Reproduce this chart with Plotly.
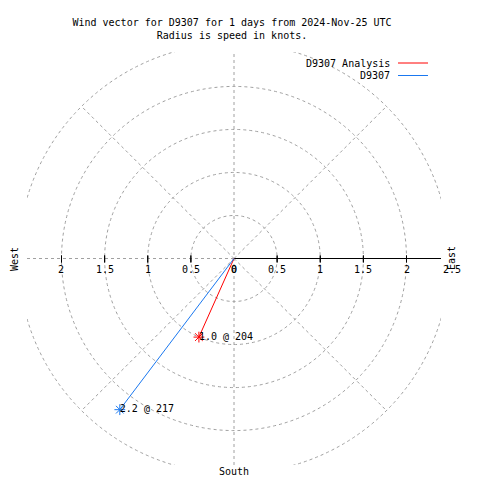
import math
import plotly.graph_objects as go

# ---- data ----
series_names = ["D9307 Analysis", "D9307"]
series_speed = [1.0, 2.2]          # knots
series_dir = [204, 217]            # degrees (clockwise from north)
series_colors = ["#ff0000", "#1a78f0"]
grid_radii = [0.5, 1.0, 1.5, 2.0, 2.5]
left_ticks = [2, 1.5, 1, 0.5, 0]
right_ticks = [0, 0.5, 1, 1.5, 2, 2.5]

FONT = "DejaVu Sans Mono"
GRID = "#a0a0a0"
OFF = 8                      # page body margin
FW = FH = 472
L, T = 27 - OFF, 52 - OFF
W, H = 414, 413
R, B = FW - L - W, FH - T - H
XR = [-2.4, 2.4]
YR = [-2.4, 2.4]


def px2paper(px, py):
    """page pixel -> paper coords"""
    return (px - OFF - L) / W, 1 - (py - OFF - T) / H


def x2paper(v):
    return (v - XR[0]) / (XR[1] - XR[0])


fig = go.Figure()

# vectors
for name, s, d, c in zip(series_names, series_speed, series_dir, series_colors):
    x = s * math.sin(math.radians(d))
    y = s * math.cos(math.radians(d))
    fig.add_trace(go.Scatter(x=[0, x], y=[0, y], mode="lines",
                             line=dict(color=c, width=1), showlegend=False,
                             hoverinfo="skip"))
    fig.add_trace(go.Scatter(x=[x], y=[y], mode="markers",
                             marker=dict(symbol="asterisk-open", size=9, color=c,
                                         line=dict(color=c, width=1)),
                             cliponaxis=False, showlegend=False))
    fig.add_trace(go.Scatter(x=[x], y=[y], mode="text",
                             text=[f"{s:.1f} @ {d}"], textposition="middle right",
                             textfont=dict(family=FONT, size=10, color="black"),
                             cliponaxis=False, showlegend=False))

shapes = []
dash = "3px,3px"
for r in grid_radii:
    shapes.append(dict(type="circle", xref="x", yref="y", x0=-r, x1=r, y0=-r, y1=r,
                       line=dict(color=GRID, width=1, dash=dash), layer="below"))
rmax = grid_radii[-1]
for a in [45, 135, 225, 315]:
    shapes.append(dict(type="line", xref="x", yref="y", x0=0, y0=0,
                       x1=rmax * math.sin(math.radians(a)), y1=rmax * math.cos(math.radians(a)),
                       line=dict(color=GRID, width=1, dash=dash), layer="below"))
shapes.append(dict(type="line", xref="x", yref="y", x0=0, x1=0, y0=YR[0], y1=YR[1],
                   line=dict(color=GRID, width=1, dash=dash), layer="below"))
shapes.append(dict(type="line", xref="x", yref="y", x0=XR[0], x1=0, y0=0, y1=0,
                   line=dict(color=GRID, width=1, dash=dash), layer="below"))
shapes.append(dict(type="line", xref="x", yref="y", x0=0, x1=XR[1], y0=0, y1=0,
                   line=dict(color="black", width=1), layer="below"))
for v in left_ticks + right_ticks:
    if v == 0 or v > 2.4:
        continue
    for sgn in (-1, 1):
        shapes.append(dict(type="line", xref="x", yref="y", x0=sgn * v, x1=sgn * v,
                           y0=-0.046, y1=0.035, line=dict(color="black", width=1)))

fnt = dict(family=FONT, size=10, color="black")
annotations = []
for v in left_ticks:
    annotations.append(dict(x=x2paper(-v), y=0.5, xref="paper", yref="paper", text=f"{v:g}",
                            xanchor="center", yanchor="middle",
                            showarrow=False, yshift=-11, font=fnt))
for v in right_ticks:
    annotations.append(dict(x=x2paper(v), y=0.5, xref="paper", yref="paper", text=f"{v:g}",
                            xanchor="center", yanchor="middle",
                            showarrow=False, yshift=-11, xshift=2 if v > 2.4 else 0,
                            font=fnt))
wx, wy = px2paper(14, 259)
annotations.append(dict(x=wx, y=wy, xref="paper", yref="paper", text="West", textangle=-90,
                        xanchor="center", yanchor="middle", showarrow=False, font=fnt))
ex, ey = px2paper(451, 258)
annotations.append(dict(x=ex, y=ey, xref="paper", yref="paper", text="East", textangle=-90,
                        xanchor="center", yanchor="middle", showarrow=False, font=fnt))
annotations.append(dict(x=0.5, y=0, xref="paper", yref="paper", xanchor="center",
                        yanchor="top", yshift=1, text="South", showarrow=False, font=fnt))

# legend (text left of line)
for i, (name, c) in enumerate(zip(series_names, series_colors)):
    py = 63 + 12.5 * i
    tx, ty = px2paper(392, py)
    annotations.append(dict(x=tx, y=ty, xref="paper", yref="paper", xanchor="right",
                            yanchor="middle", text=name, showarrow=False, font=fnt))
    x0, y0 = px2paper(398, py)
    x1, _ = px2paper(428, py)
    shapes.append(dict(type="line", xref="paper", yref="paper", x0=x0, x1=x1, y0=y0, y1=y0,
                       line=dict(color=c, width=1)))

fig.update_layout(
    width=FW, height=FH,
    margin=dict(l=L, r=R, t=T, b=B),
    paper_bgcolor="white", plot_bgcolor="white",
    xaxis=dict(range=XR, visible=False, fixedrange=True),
    yaxis=dict(range=YR, visible=False, fixedrange=True),
    shapes=shapes, annotations=annotations,
    title=dict(text="Wind vector for D9307 for 1 days from 2024-Nov-25 UTC<br>Radius is speed in knots.",
               x=(232 - OFF) / FW, xref="container", xanchor="center",
               y=1 - (26 - OFF) / FH, yref="container", yanchor="middle",
               font=fnt),
    showlegend=False,
)

fig.write_html("out.html")
